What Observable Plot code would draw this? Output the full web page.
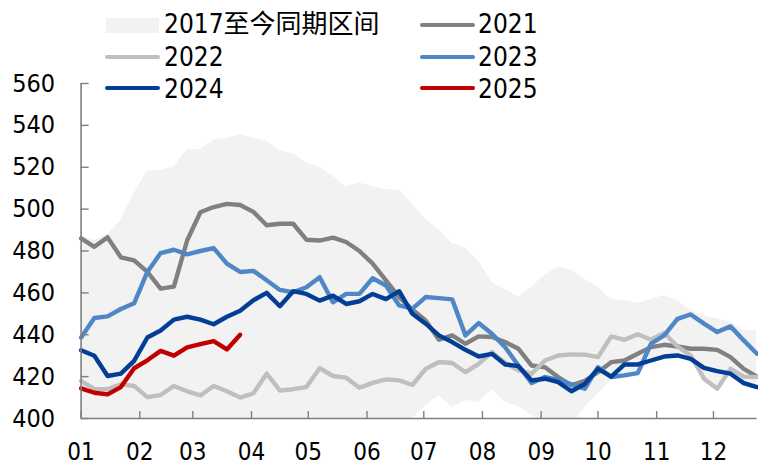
<!DOCTYPE html>
<html>
<head>
<meta charset="utf-8">
<script src="https://cdn.jsdelivr.net/npm/d3@7"></script>
<script src="https://cdn.jsdelivr.net/npm/@observablehq/plot@0.6"></script>
<style>
  html, body { margin: 0; padding: 0; background: #fff; }
  #wrap { position: relative; width: 758px; height: 466px; overflow: hidden; }
  #legend { position: absolute; left: 0; top: 0; width: 758px; height: 110px; pointer-events: none;
            font-family: "DejaVu Sans Condensed", "DejaVu Sans", "Noto Sans CJK SC", sans-serif; font-stretch: condensed; }
  .sw { position: absolute; }
  .lt { position: absolute; font-size: 26px; line-height: 26px; color: #000; white-space: nowrap; }
  svg { font-family: "DejaVu Sans Condensed", "DejaVu Sans", sans-serif; font-stretch: condensed; }
</style>
</head>
<body>
<div id="wrap"><div id="chart"></div><div id="legend"></div></div>
<script>
// ---- data (weekly, 52 weeks) ----
const monthStarts = [0, 31, 59, 90, 120, 151, 181, 212, 243, 273, 304, 334];
const monthLabels = ["01","02","03","04","05","06","07","08","09","10","11","12"];
const yTicks = [400, 420, 440, 460, 480, 500, 520, 540, 560];

const bandLabel = "2017至今同期区间";
const bandHigh = [487,485,488,494.7,507.5,518,518.7,520,528.3,528.3,533,534,535.5,534,532.5,528,526.5,522,520,516,510.5,512.5,510.8,509.3,509,502.6,495,490.3,483.5,481.5,475,465,461.5,458,462.8,468.4,472.3,470.7,466.5,462.8,456.7,456.4,455.1,456.7,458.8,456.4,451.6,448.8,447.6,446,442,442];
const bandLow = [395,395,395,395,395,395,395,395,395,395,395,395,395,395,395,395,395,395,395,395,395,395,398,398,398,400,406,411,405,408.6,407.8,413.7,407.8,405.7,401.4,398,396,396,405.4,411.8,418,420,421,427,429,430,428,419,414,421,416.5,414.5];

const s2021 = [486,482,486.5,477,475.5,470,462,463,485,498.5,501,502.5,502,498.7,492.3,493,493,485.4,485,486.4,484.3,480,474,466,458,452,446.8,437.6,439.7,435.7,439.2,438.9,436.5,433.3,425.3,424.5,419.8,415.8,418,422.1,426.9,427.7,430.9,434.1,435.2,434.4,433.3,433.3,432.8,429.3,423.7,420];
const s2022 = [418,414,414,416.3,415.5,410.2,411.2,415.5,413,411,415.5,413,410,412,421.4,413.4,414,415,424,420.3,419.5,414.7,417,418.7,418.2,416,423.7,427,426.5,422.1,426.1,431.7,426.5,423,421.4,427.7,430.1,430.6,430.5,429.3,439.2,437.6,440.2,437.6,440.8,434.4,430.1,419,414.2,423.7,420,419.8];
const s2023 = [438.7,448,448.8,452.3,455,470,479,480.6,478.4,480,481.4,474,470,470.5,466,461.4,460.3,462.7,467.5,455.5,459.5,459.5,467,463.5,454,452.5,458,457.5,456.9,439.7,445.6,440.5,434,425.3,416.9,419.8,418.5,416.3,414.2,424.5,419.8,420.6,421.7,435.7,439.7,447.6,449.7,445.3,441.3,444,437.3,430.9];
const s2024 = [432.6,430,420.3,421.4,427.5,438.7,442,447.2,448.6,447.2,445,448.6,451.5,456.5,460,453.6,460.8,459.5,456.3,458.7,454.7,456,459.5,457,460.8,450,445.3,439.7,436.5,432.8,429.6,430.9,425.8,425,418.2,419,417.4,413,416.5,423.7,420,425.8,425.8,427.7,429.6,430.1,428.5,424.2,422.6,421.4,416.9,415];
const s2025 = [414.4,412.3,411.5,415,424,427.8,432.3,430,434,435.5,437,433,440];

const seriesNames = ["2021","2022","2023","2024","2025"];
const seriesValues = [s2021, s2022, s2023, s2024, s2025];
const seriesColors = ["#808080","#bfbfbf","#4f86c6","#033e96","#c00000"];
const bandColor = "#f2f2f2";
const drawOrder = [0, 1, 2, 3, 4];

// ---- build tables ----
const bandRows = bandHigh.map((h, i) => ({day: i * 7, lo: bandLow[i], hi: h}));
const lineRows = seriesNames.map((name, k) => seriesValues[k].map((v, i) => ({day: i * 7, v, name})));

const axisColor = "#7f7f7f";
const chart = Plot.plot({
  width: 758,
  height: 466,
  marginTop: 83,
  marginBottom: 48,
  marginLeft: 80.6,
  marginRight: 1.5,
  style: {fontSize: "25px", fontFamily: '"DejaVu Sans Condensed", "DejaVu Sans", sans-serif', color: "#000", background: "transparent"},
  x: {type: "linear", domain: [0, 357]},
  y: {domain: [400, 560]},
  marks: [
    Plot.areaY(bandRows, {x: "day", y1: "lo", y2: "hi", fill: bandColor, clip: true}),
    ...drawOrder.map(k => Plot.line(lineRows[k], {
      x: "day", y: "v", stroke: seriesColors[k], strokeWidth: 4.4,
      strokeLinejoin: "round", strokeLinecap: "round"
    })),
    Plot.ruleX([0], {stroke: axisColor, strokeWidth: 1.6}),
    Plot.ruleY([400], {stroke: axisColor, strokeWidth: 1.6}),
    Plot.axisY({ticks: yTicks, tickSize: -8, tickPadding: 34, stroke: axisColor, strokeWidth: 1.4, fill: "#000", fontSize: 25, label: null, anchor: "left"}),
    Plot.axisX({ticks: monthStarts, tickFormat: d => monthLabels[monthStarts.indexOf(d)], tickSize: -7, tickPadding: 31, stroke: axisColor, strokeWidth: 1.4, fill: "#000", fontSize: 24, label: null, anchor: "bottom"})
  ]
});
document.getElementById("chart").appendChild(chart);

// ---- legend ----
const legend = document.getElementById("legend");
const legendItems = [
  {label: bandLabel, color: bandColor, kind: "box", col: 0, row: 0},
  {label: "2021", color: seriesColors[0], kind: "line", col: 1, row: 0},
  {label: "2022", color: seriesColors[1], kind: "line", col: 0, row: 1},
  {label: "2023", color: seriesColors[2], kind: "line", col: 1, row: 1},
  {label: "2024", color: seriesColors[3], kind: "line", col: 0, row: 2},
  {label: "2025", color: seriesColors[4], kind: "line", col: 1, row: 2}
];
const colSwatchX = [105, 420], colTextX = [164, 478];
const rowCenter = [24.5, 56.7, 88.3];
legendItems.forEach(it => {
  const sw = document.createElement("div");
  sw.className = "sw";
  if (it.kind === "box") {
    Object.assign(sw.style, {left: colSwatchX[it.col] + 1 + "px", top: "18px", width: "53px", height: "15px", background: it.color});
  } else {
    Object.assign(sw.style, {left: colSwatchX[it.col] + "px", top: (rowCenter[it.row] - 2) + "px", width: "55px", height: "4px", background: it.color, borderRadius: "2px"});
  }
  legend.appendChild(sw);
  const t = document.createElement("div");
  t.className = "lt";
  t.textContent = it.label;
  Object.assign(t.style, {left: colTextX[it.col] + "px", top: (rowCenter[it.row] - 12.5 - (it.row === 0 ? 1.5 : 0)) + "px"});
  legend.appendChild(t);
});
</script>
</body>
</html>
